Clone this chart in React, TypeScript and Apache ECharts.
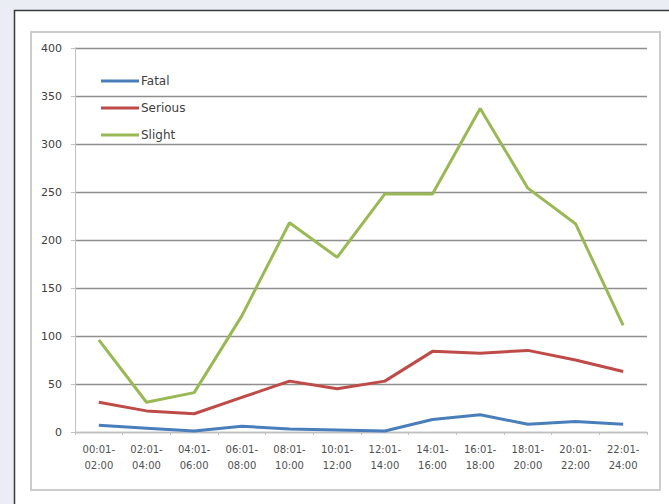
import React, { useEffect, useRef } from "react";
import * as echarts from "echarts";

const categories = [
  "00:01-\n02:00", "02:01-\n04:00", "04:01-\n06:00", "06:01-\n08:00",
  "08:01-\n10:00", "10:01-\n12:00", "12:01-\n14:00", "14:01-\n16:00",
  "16:01-\n18:00", "18:01-\n20:00", "20:01-\n22:00", "22:01-\n24:00",
];
const fatal = [7, 4, 1, 6, 3, 2, 1, 13, 18, 8, 11, 8];
const serious = [31, 22, 19, 36, 53, 45, 53, 84, 82, 85, 75, 63];
const slight = [96, 31, 41, 121, 218, 182, 248, 248, 337, 254, 217, 111];
const yTicks = { min: 0, max: 400, interval: 50 };

export default function App() {
  const ref = useRef<HTMLDivElement>(null);
  useEffect(() => {
    if (!ref.current) return;
    const chart = echarts.init(ref.current, undefined, { renderer: "svg" });
    const font = "DejaVu Sans";
    chart.setOption({
      animation: false,
      backgroundColor: "#EBEDF5",
      graphic: [
        {
          type: "rect",
          shape: { x: 14.5, y: 10.5, width: 700, height: 600 },
          style: { fill: "#ffffff", stroke: "#3a3a3a", lineWidth: 1.5 },
          z: -10,
        },
        {
          type: "rect",
          shape: { x: 31, y: 32, width: 629, height: 458 },
          style: { fill: "#ffffff", stroke: "#cccccc", lineWidth: 2 },
          z: -9,
        },
      ],
      grid: { left: 75, right: 22, top: 48, bottom: 72, containLabel: false },
      legend: {
        orient: "vertical",
        left: 96,
        top: 69,
        itemWidth: 38,
        itemHeight: 3,
        itemGap: 13,
        icon: "rect",
        textStyle: { fontFamily: font, fontSize: 12, lineHeight: 14, color: "#404040", padding: [0, 0, 0, -3] },
        data: ["Fatal", "Serious", "Slight"],
      },
      xAxis: {
        type: "category",
        data: categories,
        boundaryGap: true,
        axisLine: { show: true, lineStyle: { color: "#c0c0c0", width: 1 } },
        axisTick: { show: true, length: 3, lineStyle: { color: "#c0c0c0" } },
        axisLabel: {
          fontFamily: font,
          fontSize: 10,
          lineHeight: 16,
          color: "#505050",
          margin: 9,
          interval: 0,
        },
        splitLine: { show: false },
      },
      yAxis: {
        type: "value",
        min: yTicks.min,
        max: yTicks.max,
        interval: yTicks.interval,
        axisLine: { show: true, lineStyle: { color: "#c0c0c0", width: 1 } },
        axisTick: { show: true, length: 4, lineStyle: { color: "#c0c0c0" } },
        axisLabel: { fontFamily: font, fontSize: 11, color: "#404040", margin: 13 },
        splitLine: { show: true, lineStyle: { color: "#8e8e8e", width: 1.3 } },
      },
      series: [
        {
          name: "Fatal",
          type: "line",
          data: fatal,
          symbol: "none",
          lineStyle: { color: "#4A7EBB", width: 3 },
          itemStyle: { color: "#4A7EBB" },
        },
        {
          name: "Serious",
          type: "line",
          data: serious,
          symbol: "none",
          lineStyle: { color: "#BE4B48", width: 3 },
          itemStyle: { color: "#BE4B48" },
        },
        {
          name: "Slight",
          type: "line",
          data: slight,
          symbol: "none",
          lineStyle: { color: "#98B954", width: 3 },
          itemStyle: { color: "#98B954" },
        },
      ],
    });
    return () => chart.dispose();
  }, []);
  return (
    <div
      ref={ref}
      style={{ position: "absolute", left: 0, top: 0, width: 669, height: 504 }}
    />
  );
}
